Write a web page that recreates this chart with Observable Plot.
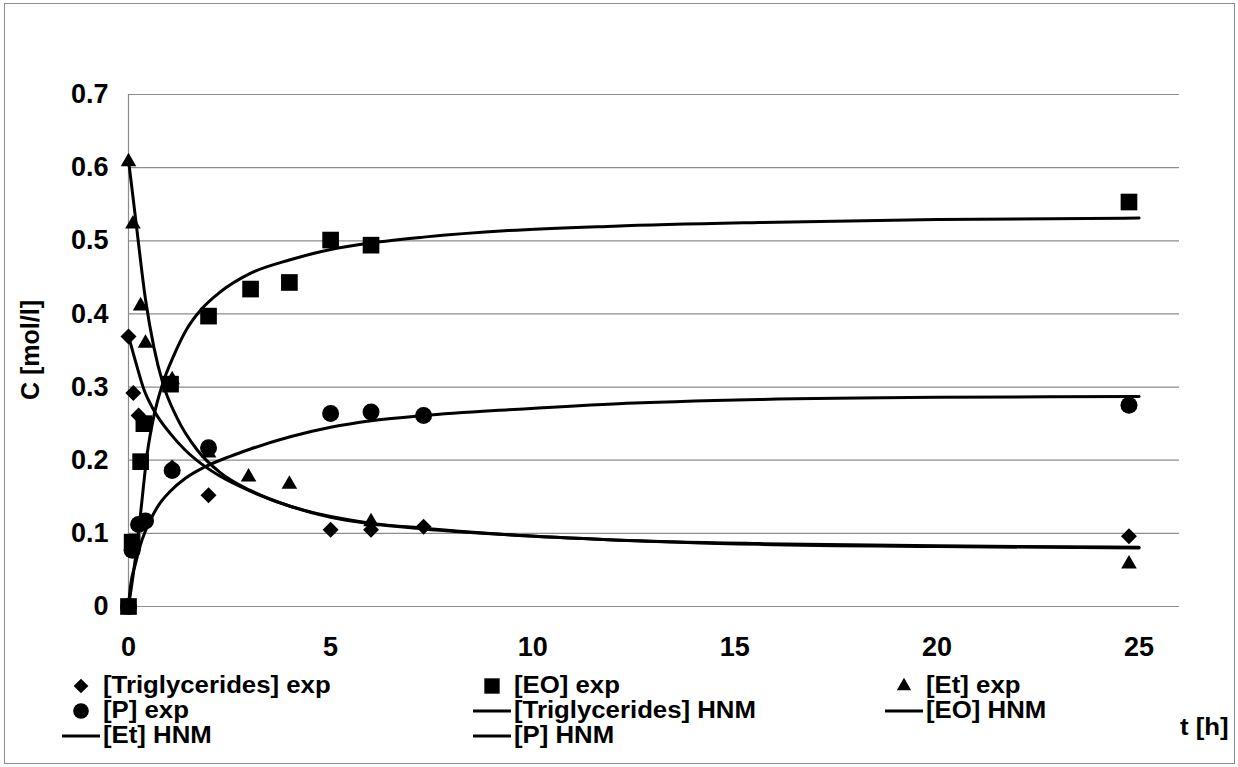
<!DOCTYPE html>
<html>
<head>
<meta charset="utf-8">
<script src="https://cdn.jsdelivr.net/npm/d3@7"></script>
<script src="https://cdn.jsdelivr.net/npm/@observablehq/plot@0.6"></script>
<style>
  html, body { margin: 0; padding: 0; background: #fff; }
  #chart { position: relative; width: 1238px; height: 767px; font-family: "Liberation Sans", Arial, sans-serif; font-weight: bold; color: #000; }
  #frame { position: absolute; left: 4px; top: 3px; width: 1231px; height: 761px; border: 1px solid #8c8c8c; box-sizing: border-box; pointer-events: none; }
  .ov { position: absolute; white-space: nowrap; font-size: 23px; line-height: 22px; transform-origin: 0 50%; transform: scaleX(1.12); }
</style>
</head>
<body>
<div id="chart"><div id="frame"></div></div>
<script>
// ---------- data ----------
const xTicks = [0, 5, 10, 15, 20, 25];
const yTicks = [0, 0.1, 0.2, 0.3, 0.4, 0.5, 0.6, 0.7];

// experimental points
const triT = [0, 0.12, 0.25, 1.08, 1.98, 5, 6, 7.3, 24.75];
const triC = [0.369, 0.292, 0.261, 0.19, 0.152, 0.105, 0.105, 0.109, 0.096];

const eoT = [0, 0.09, 0.3, 0.38, 1.04, 1.98, 3.02, 3.98, 5, 6, 24.75];
const eoC = [0, 0.088, 0.198, 0.25, 0.304, 0.397, 0.434, 0.443, 0.501, 0.494, 0.553];

const etT = [0, 0.11, 0.3, 0.42, 1.08, 1.98, 2.97, 3.98, 6, 24.75];
const etC = [0.608, 0.523, 0.411, 0.36, 0.31, 0.21, 0.177, 0.167, 0.116, 0.058];

const pT = [0, 0.09, 0.25, 0.42, 1.08, 1.98, 5, 6, 7.3, 24.75];
const pC = [0, 0.077, 0.112, 0.117, 0.186, 0.217, 0.264, 0.266, 0.261, 0.275];

// model curves (HNM)
const triHT = [0, 0.2, 0.38, 0.63, 1.04, 1.4, 1.78, 2.27, 3.0, 4, 5, 6, 7.3, 9.4, 12, 15.6, 20, 25];
const triHC = [0.37, 0.33, 0.297, 0.268, 0.236, 0.214, 0.196, 0.178, 0.158, 0.137, 0.123, 0.114, 0.107, 0.098, 0.091, 0.086, 0.083, 0.081];

const etHT = [0, 0.1, 0.21, 0.42, 0.63, 0.85, 1.2, 1.7, 2.27, 3.0, 4, 5, 6, 7.3, 9.4, 12, 15.6, 20, 25];
const etHC = [0.61, 0.565, 0.514, 0.42, 0.354, 0.305, 0.258, 0.214, 0.183, 0.159, 0.137, 0.122, 0.113, 0.106, 0.098, 0.091, 0.085, 0.082, 0.08];

const eoHT = [0, 0.05, 0.17, 0.3, 0.46, 0.63, 0.83, 1.12, 1.45, 1.78, 2.27, 3, 4, 5, 6, 7.3, 9.4, 12, 15.6, 20, 25];
const eoHC = [0, 0.018, 0.066, 0.128, 0.208, 0.261, 0.302, 0.343, 0.38, 0.405, 0.43, 0.455, 0.474, 0.488, 0.497, 0.505, 0.514, 0.52, 0.525, 0.529, 0.531];

const pHT = [0, 0.05, 0.17, 0.3, 0.54, 0.75, 1.04, 1.4, 1.86, 2.5, 3, 4, 5, 6, 7.3, 9.4, 12, 15.6, 20, 25];
const pHC = [0, 0.028, 0.058, 0.085, 0.118, 0.139, 0.158, 0.175, 0.19, 0.205, 0.215, 0.232, 0.245, 0.254, 0.261, 0.269, 0.277, 0.283, 0.286, 0.287];

const legendNames = ["[Triglycerides] exp", "[EO] exp", "[Et] exp", "[P] exp",
  "[Triglycerides] HNM", "[EO] HNM", "[Et] HNM", "[P] HNM"];
const legendKinds = ["diamond2", "square", "triangle", "circle", "line", "line", "line", "line"];

const xLabel = "t [h]";
const yLabel = "C [mol/l]";

// ---------- build tables ----------
const zip = (T, C) => T.map((t, i) => ({t, c: C[i]}));
const markerR = {diamond2: 7.2, square: 9.4, triangle: 5.8, circle: 8.5};

const pts = [
  {data: zip(triT, triC), symbol: "diamond2"},
  {data: zip(eoT, eoC), symbol: "square"},
  {data: zip(etT, etC), symbol: "triangle"},
  {data: zip(pT, pC), symbol: "circle"}
];
const curves = [zip(triHT, triHC), zip(etHT, etHC), zip(eoHT, eoHC), zip(pHT, pHC)];

const W = 1238, H = 767;
const plot = Plot.plot({
  width: W, height: H,
  marginLeft: 128, marginRight: 59, marginTop: 94, marginBottom: 161,
  style: {fontFamily: '"Liberation Sans", Arial, sans-serif', fontSize: "27px", fontWeight: "bold", color: "#000", background: "transparent", overflow: "visible"},
  x: {domain: [0, 26], ticks: xTicks, tickSize: 0, tickPadding: 30, label: null, tickFormat: d => String(d)},
  y: {domain: [0, 0.7], ticks: yTicks, tickSize: 0, tickPadding: 20, label: null, tickFormat: d => d === 0 ? "0" : d.toFixed(1)},
  marks: [
    Plot.ruleY(yTicks, {stroke: "#8c8c8c", strokeWidth: 1.2}),
    Plot.ruleX([0], {stroke: "#8c8c8c", strokeWidth: 1.2}),
    ...curves.map(d => Plot.line(d, {x: "t", y: "c", stroke: "#000", strokeWidth: 3, curve: "monotone-x"})),
    ...pts.map(s => Plot.dot(s.data, {x: "t", y: "c", symbol: () => s.symbol, r: markerR[s.symbol], fill: "#000", stroke: "none"}))
  ]
});
const chart = document.getElementById("chart");
chart.insertBefore(plot, chart.firstChild);

// ---------- legend (HTML overlay) ----------
const colX = [62, 473, 885];
const rowY = [686, 711, 736];
const symMap = {diamond2: d3.symbolDiamond2, square: d3.symbolSquare, triangle: d3.symbolTriangle, circle: d3.symbolCircle};
legendNames.forEach((name, i) => {
  const col = i % 3, row = Math.floor(i / 3);
  const kind = legendKinds[i];
  const key = d3.create("svg").attr("width", 40).attr("height", 22)
    .style("position", "absolute").style("left", colX[col] + "px").style("top", (rowY[row] - 11) + "px");
  if (kind === "line") {
    key.append("line").attr("x1", 0).attr("x2", 38).attr("y1", 11).attr("y2", 11).attr("stroke", "#000").attr("stroke-width", 3);
  } else {
    const r = markerR[kind];
    key.append("path").attr("transform", "translate(19,11)")
      .attr("d", d3.symbol(symMap[kind], r * r * Math.PI * 0.85)()).attr("fill", "#000");
  }
  chart.appendChild(key.node());
  const lab = document.createElement("div");
  lab.className = "ov";
  lab.textContent = name;
  lab.style.left = (colX[col] + 41) + "px";
  lab.style.top = (rowY[row] - 12) + "px";
  chart.appendChild(lab);
});

// axis titles
const xl = document.createElement("div");
xl.className = "ov"; xl.textContent = xLabel;
xl.style.left = "1180px"; xl.style.top = "716px";
chart.appendChild(xl);

const yl = document.createElement("div");
yl.className = "ov"; yl.textContent = yLabel;
yl.style.fontSize = "25px";
yl.style.left = "30px"; yl.style.top = "350px";
yl.style.transformOrigin = "50% 50%";
yl.style.transform = "translate(-50%, -50%) rotate(-90deg)";
chart.appendChild(yl);
</script>
</body>
</html>
